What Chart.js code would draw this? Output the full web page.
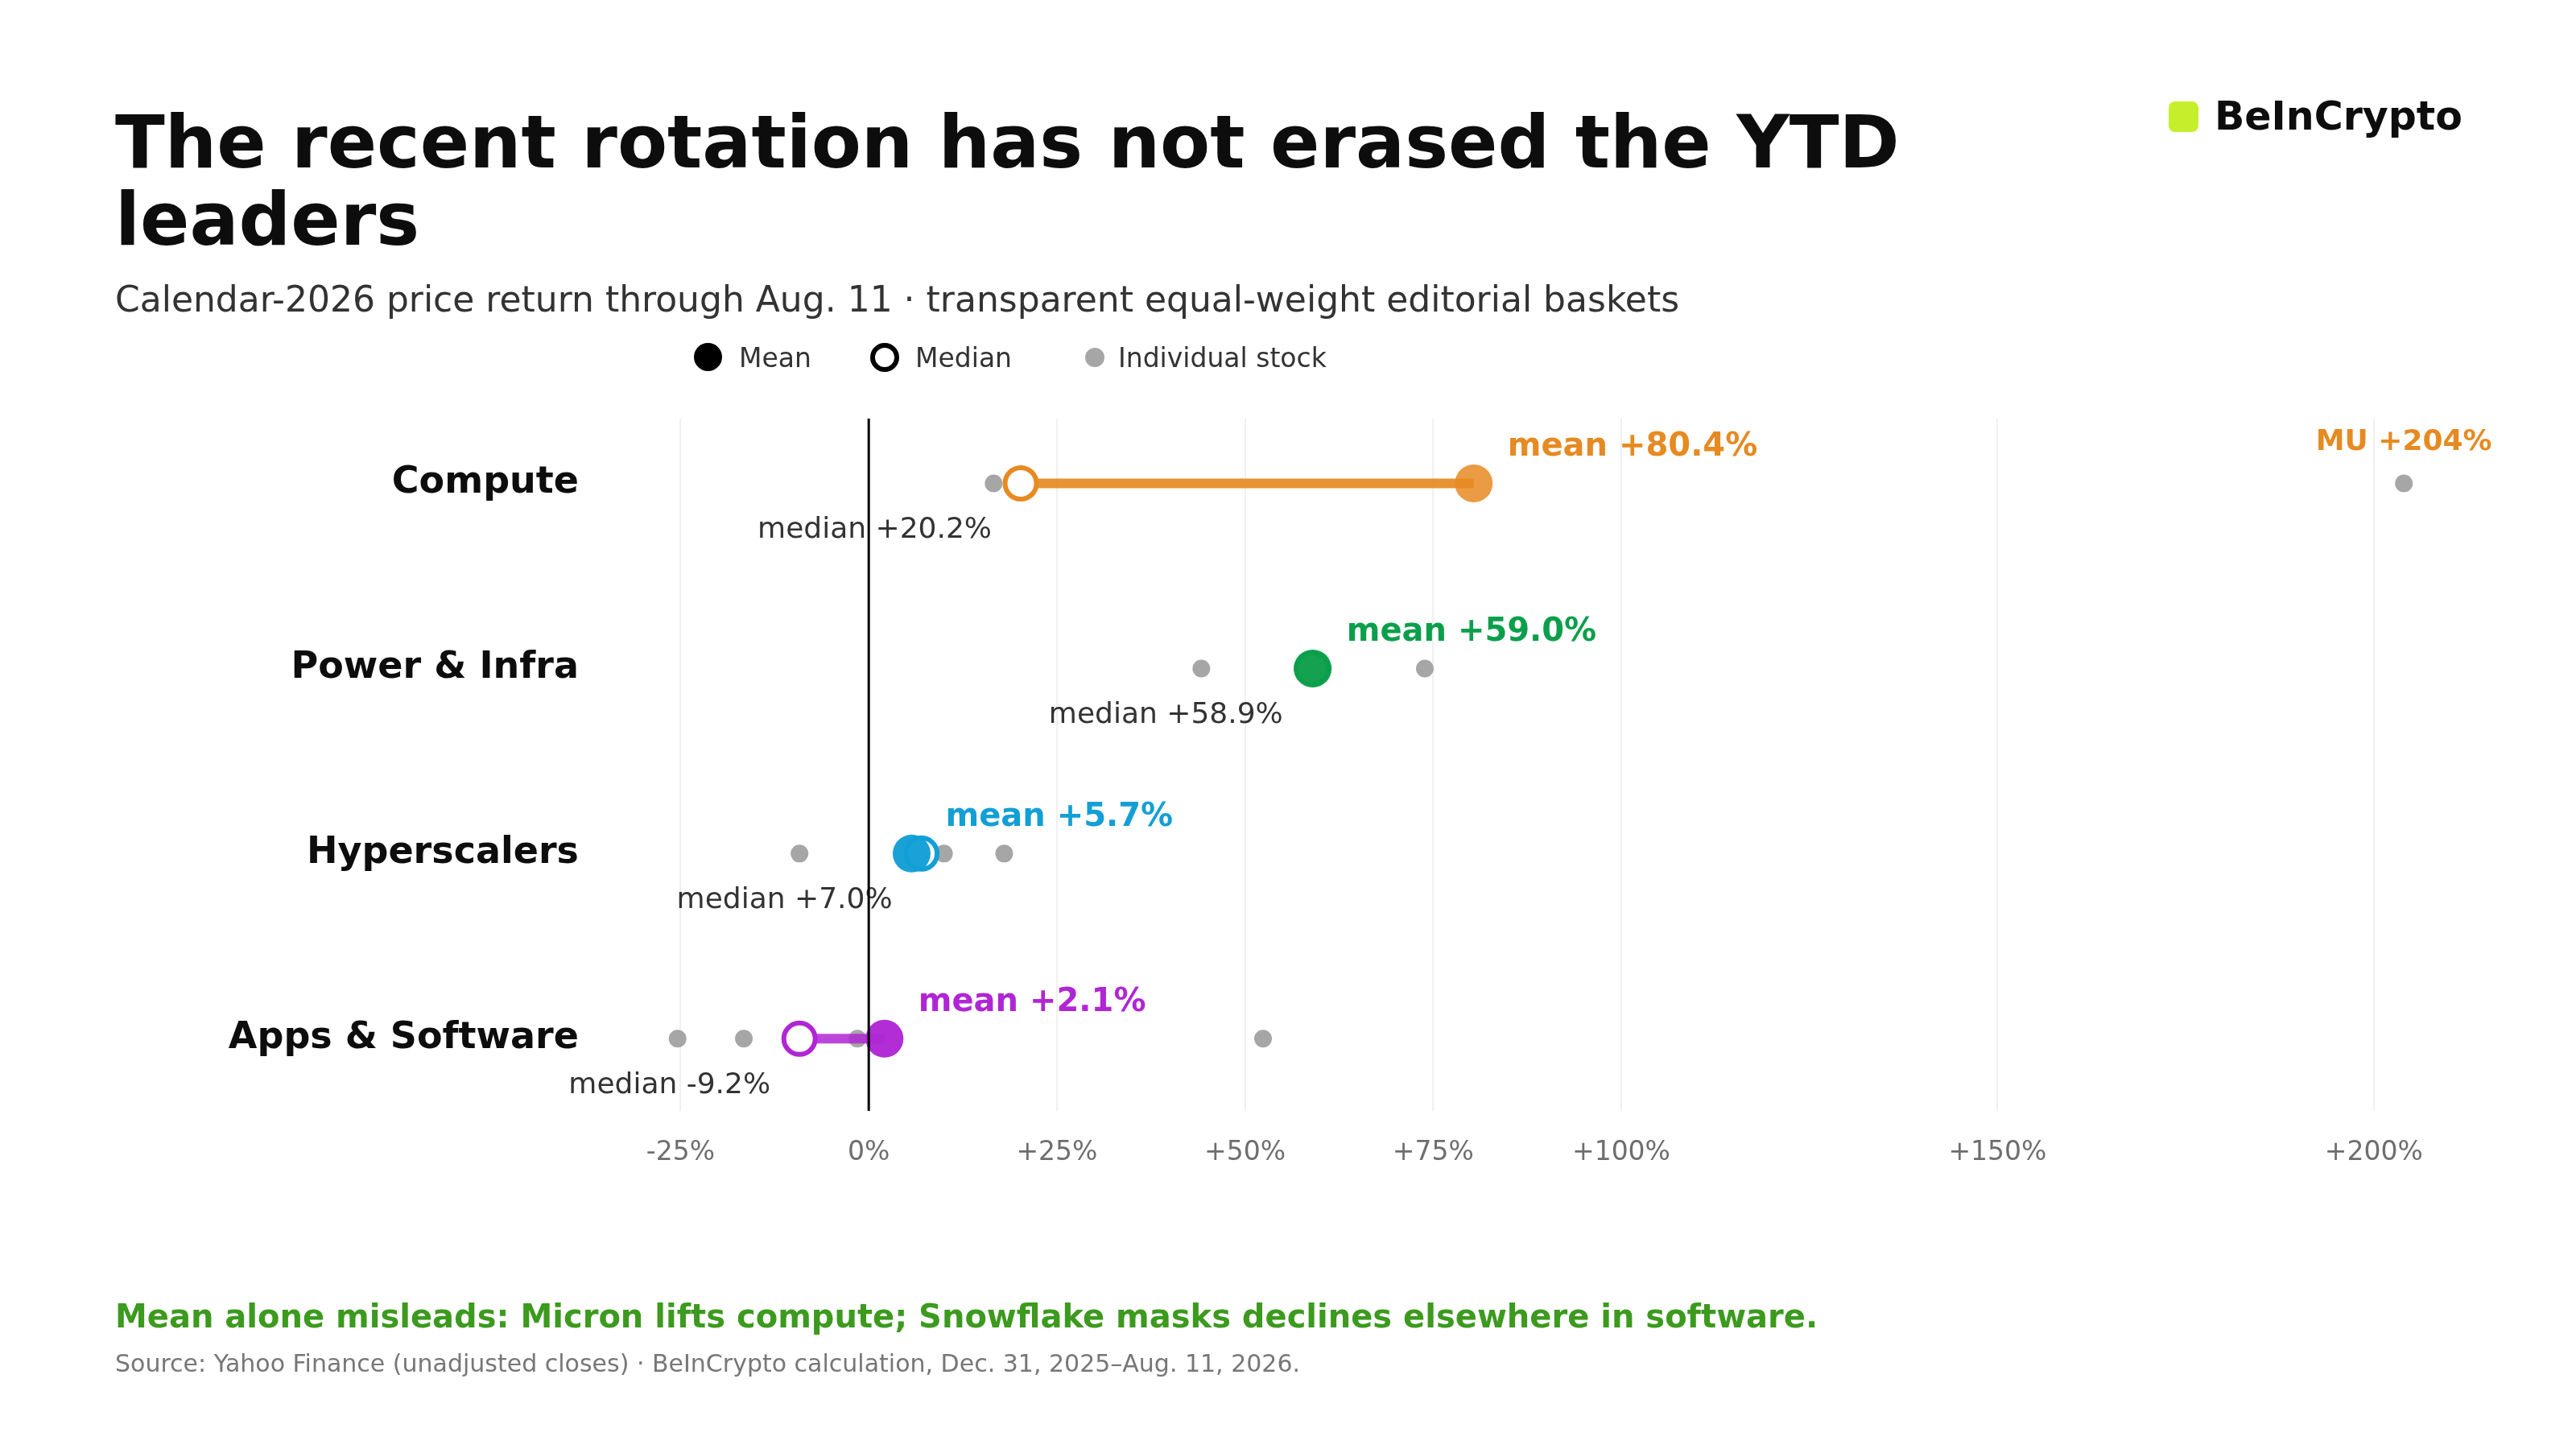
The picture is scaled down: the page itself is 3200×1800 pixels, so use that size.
<!DOCTYPE html>
<html>
<head>
<meta charset="utf-8">
<script src="https://cdn.jsdelivr.net/npm/chart.js@4.4.1/dist/chart.umd.min.js"></script>
<style>
  html, body { margin: 0; padding: 0; background: #fff; }
  body { width: 3200px; height: 1800px; position: relative; overflow: hidden; font-family: "DejaVu Sans", sans-serif; }
  #c { position: absolute; left: 0; top: 0; width: 3200px; height: 1800px; }
  .t { position: absolute; white-space: nowrap; }
  #title { left: 143px; top: 129px; font-size: 90.5px; line-height: 96px; font-weight: bold; color: #0d0d0d; }
  #subtitle { left: 143px; top: 347px; font-size: 44px; line-height: 50px; color: #333; }
  .lg { top: 425px; font-size: 33px; line-height: 40px; color: #333; }
  .dot { position: absolute; border-radius: 50%; box-sizing: border-box; }
  #logoSq { position: absolute; left: 2694px; top: 126px; width: 37px; height: 38px; border-radius: 8px; background: #c6ef2b; }
  #logo { left: 2751px; top: 117px; font-size: 49px; line-height: 56px; font-weight: bold; color: #0d0d0d; }
  #note { left: 143px; top: 1613px; font-size: 40px; line-height: 44px; font-weight: bold; color: #3c9a1e; }
  #source { left: 143px; top: 1677px; font-size: 30px; line-height: 34px; color: #777; }
</style>
</head>
<body>
<canvas id="c" width="3200" height="1800"></canvas>

<div id="title" class="t">The recent rotation has not erased the YTD<br>leaders</div>
<div id="subtitle" class="t">Calendar-2026 price return through Aug. 11 · transparent equal-weight editorial baskets</div>

<div class="dot" style="left:862px;top:426px;width:35px;height:35px;background:#000;"></div>
<div class="t lg" style="left:918px;">Mean</div>
<div class="dot" style="left:1081px;top:426px;width:36px;height:36px;border:6px solid #000;background:#fff;"></div>
<div class="t lg" style="left:1137px;">Median</div>
<div class="dot" style="left:1348px;top:432px;width:24px;height:24px;background:#a6a6a6;"></div>
<div class="t lg" style="left:1389px;">Individual stock</div>

<div id="logoSq"></div>
<div id="logo" class="t">BeInCrypto</div>

<div id="note" class="t">Mean alone misleads: Micron lifts compute; Snowflake masks declines elsewhere in software.</div>
<div id="source" class="t">Source: Yahoo Finance (unadjusted closes) · BeInCrypto calculation, Dec. 31, 2025–Aug. 11, 2026.</div>

<script>
// baskets, top to bottom
const categories = ['Compute', 'Power & Infra', 'Hyperscalers', 'Apps & Software'];
const meanValues = [80.4, 59.0, 5.7, 2.1];
const medianValues = [20.2, 58.9, 7.0, -9.2];

// individual stock returns (%)
const computeStocks = [16.6, 20.2, 204];
const powerStocks = [44.2, 58.9, 73.9];
const hyperscalerStocks = [-9.2, 7.0, 10.0, 18.0];
const softwareStocks = [-25.4, -16.6, -9.2, -1.5, 52.4];

const xTicks = [-25, 0, 25, 50, 75, 100, 150, 200];

// outlier callout
const calloutRow = [0];
const calloutValue = [204];
const calloutText = ['MU +204%'];

const colors = ['#e68a22', '#0c9f4b', '#139fd6', '#b026d4'];
const lineColors = ['rgba(230,138,34,0.92)', 'rgba(12,159,75,0.9)', 'rgba(19,159,214,0.9)', 'rgba(176,38,212,0.85)'];
const meanFill = ['rgba(230,138,34,0.85)', 'rgba(12,159,75,0.97)', 'rgba(19,159,214,0.97)', 'rgba(176,38,212,0.97)'];

function fmt(v) {
    return (v >= 0 ? '+' : '') + v.toFixed(1) + '%';
}

const stockLists = [computeStocks, powerStocks, hyperscalerStocks, softwareStocks];
let stockPoints = [];
stockLists.forEach(function (arr, i) {
    arr.forEach(function (v) { stockPoints.push({ x: v, y: i }); });
});

let datasets = [];
datasets.push({
    label: 'Mean',
    data: meanValues.map(function (v, i) { return { x: v, y: i }; }),
    pointRadius: 23.5,
    pointBackgroundColor: meanFill,
    pointBorderWidth: 0,
    order: 1
});
datasets.push({
    label: 'Median',
    data: medianValues.map(function (v, i) { return { x: v, y: i }; }),
    pointRadius: 19.5,
    pointBackgroundColor: '#fff',
    pointBorderColor: colors,
    pointBorderWidth: 6,
    order: 2
});
categories.forEach(function (c, i) {
    datasets.push({
        label: c,
        data: [{ x: medianValues[i], y: i }, { x: meanValues[i], y: i }],
        showLine: true,
        borderColor: lineColors[i],
        borderWidth: 12,
        borderCapStyle: 'butt',
        pointRadius: 0,
        order: 3
    });
});
datasets.push({
    label: 'Individual stock',
    data: stockPoints,
    pointRadius: 11,
    pointBackgroundColor: '#a6a6a6',
    pointBorderWidth: 0,
    order: 4
});

const labelPlugin = {
    id: 'dumbbellLabels',
    afterDatasetsDraw(chart) {
        const ctx = chart.ctx;
        const xs = chart.scales.x;
        const ys = chart.scales.y;
        const area = chart.chartArea;
        ctx.save();
        categories.forEach(function (c, i) {
            const y = ys.getPixelForValue(i);
            ctx.font = 'bold 40px "DejaVu Sans"';
            ctx.fillStyle = colors[i];
            ctx.textAlign = 'left';
            ctx.textBaseline = 'alphabetic';
            ctx.fillText('mean ' + fmt(meanValues[i]), xs.getPixelForValue(meanValues[i]) + 42, y - 34);
            ctx.font = '36px "DejaVu Sans"';
            ctx.fillStyle = '#333';
            ctx.textAlign = 'right';
            ctx.fillText('median ' + fmt(medianValues[i]), xs.getPixelForValue(medianValues[i]) - 36, y + 68);
        });
        for (let k = 0; k < calloutText.length; k++) {
            ctx.font = 'bold 36px "DejaVu Sans"';
            ctx.fillStyle = colors[calloutRow[k]];
            ctx.textAlign = 'center';
            ctx.fillText(calloutText[k], xs.getPixelForValue(calloutValue[k]), ys.getPixelForValue(calloutRow[k]) - 41);
        }
        // zero line sits on top of everything
        const x0 = xs.getPixelForValue(0);
        ctx.strokeStyle = '#000';
        ctx.lineWidth = 3;
        ctx.beginPath();
        ctx.moveTo(x0, area.top);
        ctx.lineTo(x0, area.bottom);
        ctx.stroke();
        ctx.restore();
    }
};

Chart.defaults.font.family = '"DejaVu Sans", sans-serif';

const myChart = new Chart(document.getElementById('c'), {
    type: 'scatter',
    data: { datasets: datasets },
    options: {
        responsive: false,
        devicePixelRatio: 1,
        animation: false,
        layout: { padding: { left: 152, right: 111, top: 520, bottom: 300 } },
        plugins: {
            legend: { display: false },
            tooltip: { enabled: false }
        },
        scales: {
            x: {
                type: 'linear',
                min: -35,
                max: 215,
                afterBuildTicks: function (scale) {
                    scale.ticks = xTicks.map(function (v) { return { value: v }; });
                },
                afterFit: function (scale) { scale.height = 120; },
                ticks: {
                    padding: 33,
                    color: '#6e6e6e',
                    font: { size: 33 },
                    callback: function (v) { return v === 0 ? '0%' : (v > 0 ? '+' : '') + v + '%'; }
                },
                grid: {
                    drawTicks: false,
                    lineWidth: 2,
                    color: function (c) { return c.tick && c.tick.value === 0 ? 'rgba(0,0,0,0)' : '#f0f0f2'; }
                },
                border: { display: false }
            },
            y: {
                type: 'linear',
                reverse: true,
                min: -0.35,
                max: 3.39,
                afterBuildTicks: function (scale) {
                    scale.ticks = categories.map(function (c, i) { return { value: i }; });
                },
                afterFit: function (scale) { scale.width = 600; },
                ticks: {
                    padding: 33,
                    color: '#0d0d0d',
                    font: { size: 46, weight: 'bold' },
                    callback: function (v) { return categories[v]; }
                },
                grid: { display: false, drawTicks: false },
                border: { display: false }
            }
        }
    },
    plugins: [labelPlugin]
});
</script>
</body>
</html>
